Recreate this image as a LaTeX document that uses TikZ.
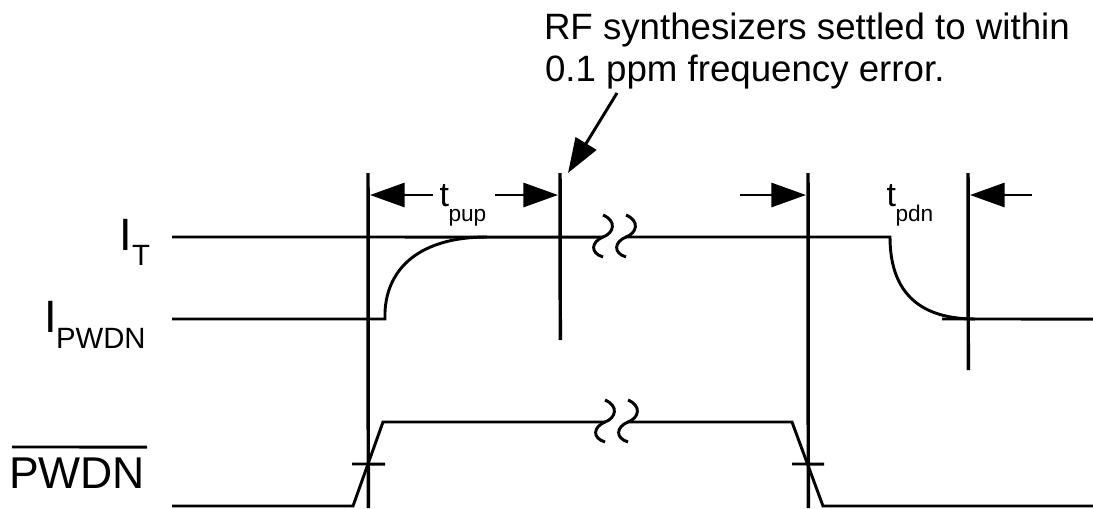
\documentclass[tikz,border=0pt]{standalone}
\usepackage{fontspec}
\setmainfont{Liberation Sans}
\usetikzlibrary{arrows.meta}
\begin{document}
\begin{tikzpicture}[x=0.75pt,y=-0.75pt,line width=2.2pt,
  tip/.style={-{Triangle[length=26pt,width=18pt]}},
  vline/.style={line width=2.6pt},
  lbl/.style={anchor=base west,inner sep=0pt,outer sep=0pt},
  big/.style={font=\fontsize{34pt}{40pt}\selectfont},
  sub/.style={font=\fontsize{22pt}{26pt}\selectfont},
  tfont/.style={font=\fontsize{25.5pt}{30pt}\selectfont},
  tsub/.style={font=\fontsize{17pt}{20pt}\selectfont},
  note/.style={font=\fontsize{27.5pt}{32pt}\selectfont},
  brk/.pic={
    \draw (0,-22) .. controls (14,-16) and (11,-4) .. (0,0)
          .. controls (-12,5) and (-13,16) .. (0,20);
    \draw (23,-22) .. controls (37,-16) and (34,-4) .. (23,0)
          .. controls (11,5) and (10,16) .. (23,20);}]
\useasboundingbox (0,0) rectangle (1093,508);

% vertical reference lines
\coordinate (v1t) at (368,173); \coordinate (v1b) at (368.3,508);
\coordinate (v2t) at (560,173); \coordinate (v2b) at (560.3,340);
\coordinate (v3t) at (808,173); \coordinate (v3b) at (808.3,508);
\coordinate (v4t) at (968,173); \coordinate (v4b) at (968.3,370);
\draw[vline] (v1t) -- (v1b);
\draw[vline] (v2t) -- (v2b);
\draw[vline] (v3t) -- (v3b);
\draw[vline] (v4t) -- (v4b);

% I_T / I_PWDN current waveform
\draw (172,237) -- (603,237.05);
\draw (626,237) -- (890,237) .. controls (890,288) and (915,319) .. (975,319);
\draw (942,319) -- (1093,319.05);
\draw (172,319) -- (385,319) -- (385,312) .. controls (387,268) and (420,237) .. (487,237);
\pic at (603,237) {brk};

% PWDN waveform
\draw[line join=miter] (172,506) -- (353,506) -- (383,422) -- (605,422);
\draw[line join=miter] (628,422) -- (792,422) -- (823,506) -- (1093,506);
\pic at (605,422) {brk};
\draw (352,464) -- (385,464.05);
\draw (792,464) -- (824,464.05);

% dimension arrows
\draw[tip] (433,195) -- (370,195);
\draw[tip] (495,195) -- (558,195);
\draw[tip] (740,195) -- (806,195);
\draw[tip] (1032,195) -- (970,195);

% labels
\node[lbl,big] (it) at (119,250) {I};
\node[lbl,sub] (its) at (132,265) {T};
\node[lbl,big] (ip) at (44,332) {I};
\node[lbl,sub] (ips) at (56,348) {PWDN};
\node[lbl,big,font=\fontsize{33.4pt}{40pt}\selectfont] (pw) at (9,488) {PWDN};
\draw (12,447) -- (147,447.05);

\node[lbl,tfont] (tp) at (439.5,206) {t};
\node[lbl,tsub] (tps) at (448.5,221) {pup};
\node[lbl,tfont] (td) at (886.5,206) {t};
\node[lbl,tsub] (tds) at (895.5,221) {pdn};

% annotation
\node[lbl,note] (n1) at (544,39) {RF synthesizers settled to within};
\node[lbl,note] (n2) at (545,81) {0.1 ppm frequency error.};
\coordinate (ntip) at (568,173);
\draw[tip] (617,93) -- (ntip);
\end{tikzpicture}
\end{document}
